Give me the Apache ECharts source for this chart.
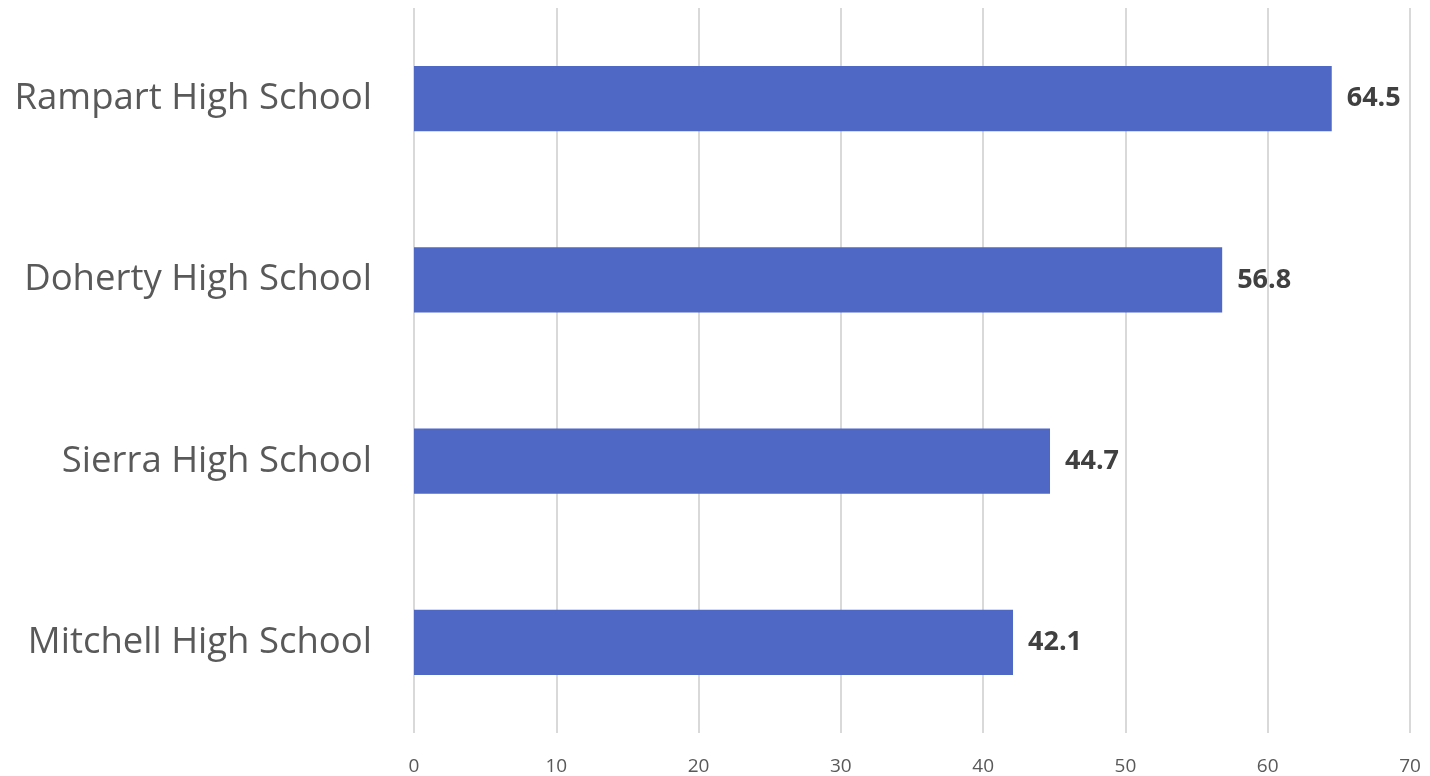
<!DOCTYPE html>
<html><head><meta charset="utf-8">
<script src="https://cdn.jsdelivr.net/npm/echarts@6/dist/echarts.min.js"></script>
<style>html,body{margin:0;padding:0;background:#fff}#c{width:1430px;height:776px}</style>
</head><body><div id="c"></div>
<script>
const categories = ["Rampart High School", "Doherty High School", "Sierra High School", "Mitchell High School"];
const values = [64.5, 56.8, 44.7, 42.1];
const chart = echarts.init(document.getElementById('c'));
chart.setOption({
  animation: false,
  grid: {left: 414, right: 20, top: 8, bottom: 41, containLabel: false},
  xAxis: {
    type: 'value', min: 0, max: 70, interval: 10,
    axisLine: {show: false}, axisTick: {show: false},
    splitLine: {show: true, lineStyle: {color: '#d9d9d9', width: 2}},
    axisLabel: {color: '#595959', fontSize: 19, fontFamily: 'Open Sans', margin: 24}
  },
  yAxis: {
    type: 'category', data: categories, inverse: true,
    axisLine: {show: false}, axisTick: {show: false},
    axisLabel: {color: '#595959', fontSize: 36.5, fontFamily: 'Open Sans', margin: 42}
  },
  series: [{
    type: 'bar', data: values, barWidth: '36%',
    itemStyle: {color: '#4F68C6'},
    label: {show: true, position: 'right', distance: 15, color: '#404040', fontSize: 27, fontWeight: 'bold', fontFamily: 'Open Sans',
      formatter: p => p.value.toFixed(1)}
  }]
});
</script></body></html>
